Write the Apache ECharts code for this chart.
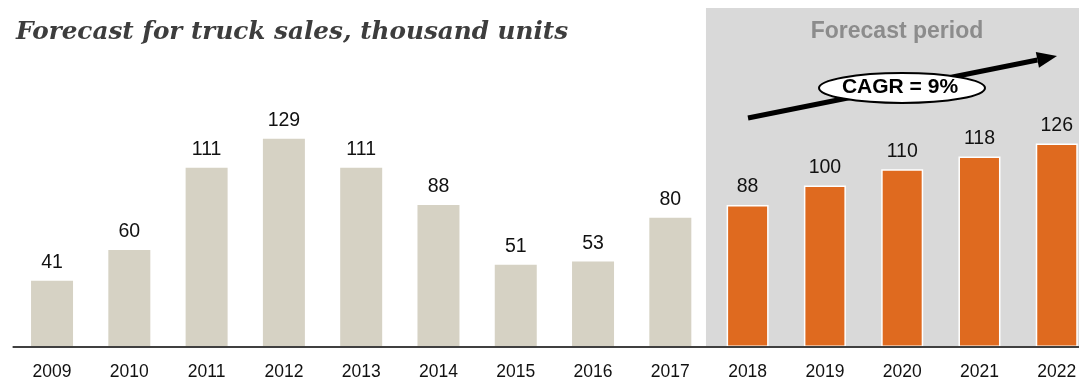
<!DOCTYPE html>
<html><head><meta charset="utf-8">
<script src="https://cdn.jsdelivr.net/npm/echarts@6/dist/echarts.min.js"></script>
<style>html,body{margin:0;padding:0;background:#fff}#c{width:1079px;height:378px}</style>
</head><body><div id="c"></div>
<script>
const years = ['2009','2010','2011','2012','2013','2014','2015','2016','2017','2018','2019','2020','2021','2022'];
const historical = [41,60,111,129,111,88,51,53,80];
const forecast = [88,100,110,118,126];
const titleText = 'Forecast for truck sales, thousand units';
const periodText = 'Forecast period';
const cagrText = 'CAGR = 9%';

const histColor = '#d6d2c4', fcColor = '#df6a1f';
const values = historical.concat(forecast);
const data = values.map((v, i) => ({
  value: v,
  itemStyle: { color: i < historical.length ? histColor : fcColor,
               borderColor: '#ffffff', borderWidth: i < historical.length ? 0 : 1.5 }
}));

const chart = echarts.init(document.getElementById('c'), null, {renderer: 'canvas'});
const option = {
  animation: false,
  grid: { left: 13.4, width: 1082, top: 24, bottom: 31, outerBoundsMode: 'none', containLabel: false },
  xAxis: {
    type: 'category', data: years,
    axisLine: { lineStyle: { color: '#404040', width: 2 } },
    axisTick: { show: false },
    axisLabel: { color: '#111', fontSize: 17.5, fontFamily: 'Liberation Sans, Arial, sans-serif', margin: 16 },
    z: 10
  },
  yAxis: { type: 'value', min: 0, max: 200, show: false, splitLine: { show: false } },
  series: [{
    type: 'bar', data: data, barWidth: 42, z: 5,
    label: { show: true, position: 'top', distance: 8, color: '#111', fontSize: 19.5,
             fontFamily: 'Liberation Sans, Arial, sans-serif' }
  }]
};
chart.setOption(option);

// decorations positioned from the axis scale
const x17 = chart.convertToPixel({xAxisIndex: 0}, '2017');
const x18 = chart.convertToPixel({xAxisIndex: 0}, '2018');
const shadeLeft = (x17 + x18) / 2 - 3;
const baseY = chart.convertToPixel({yAxisIndex: 0}, 0);
const shadeTop = 8;

const ax = 748, ay = 118, bx = 1057, by = 56;
const ang = Math.atan2(by - ay, bx - ax);
const headL = 20, headW = 8;
const hx = bx - headL * Math.cos(ang), hy = by - headL * Math.sin(ang);
const px = -Math.sin(ang) * headW, py = Math.cos(ang) * headW;

chart.setOption({
  title: {
    text: titleText, left: 11, top: 15,
    textStyle: { fontFamily: 'DejaVu Serif, Georgia, serif', fontStyle: 'italic', fontWeight: 'bold',
                 fontSize: 24.7, color: '#3d3d3d' }
  },
  graphic: [
    { type: 'rect', z: -10, silent: true,
      shape: { x: shadeLeft, y: shadeTop, width: 1079 - shadeLeft, height: baseY - shadeTop },
      style: { fill: '#d9d9d9' } },
    { type: 'text', z: 1, x: 897, y: 32,
      style: { text: periodText, fill: '#8c8c8c', font: 'bold 23px "Liberation Sans", Arial, sans-serif',
               textAlign: 'center', textVerticalAlign: 'middle' } },
    { type: 'line', z: 20, shape: { x1: ax, y1: ay, x2: hx, y2: hy },
      style: { stroke: '#000', lineWidth: 5 } },
    { type: 'polygon', z: 20, shape: { points: [[bx, by], [hx + px, hy + py], [hx - px, hy - py]] },
      style: { fill: '#000' } },
    { type: 'ellipse', z: 21, shape: { cx: 902, cy: 88, rx: 83, ry: 15 },
      style: { fill: '#fff', stroke: '#000', lineWidth: 2 } },
    { type: 'text', z: 22, x: 900, y: 87,
      style: { text: cagrText, fill: '#000', font: 'bold 21px "Liberation Sans", Arial, sans-serif',
               textAlign: 'center', textVerticalAlign: 'middle' } }
  ]
});
</script></body></html>
